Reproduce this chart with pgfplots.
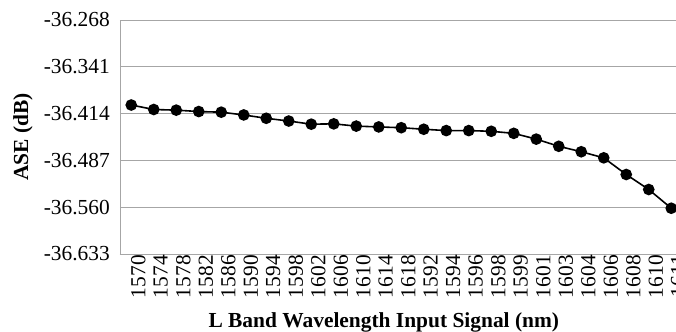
\documentclass[border=0pt]{standalone}
\usepackage{fontspec}
\setmainfont{Liberation Serif}
\usepackage{pgfplots}
\pgfplotsset{compat=1.18}
\definecolor{gridgray}{RGB}{166,166,166}
\begin{document}
\fontsize{21.5}{24}\selectfont
\begin{tikzpicture}
\begin{axis}[
  at={(0,0)}, anchor=south west,
  scale only axis,
  width=562.5bp, height=234bp,
  xmin=-0.5, xmax=24.5,
  ymin=-36.633, ymax=-36.268,
  axis x line*=bottom, axis y line*=left,
  axis line style={gridgray, line width=1pt},
  ymajorgrids, grid style={gridgray, line width=1pt},
  major tick length=0pt,
  xtick={0,...,24},
  xticklabels={1570,1574,1578,1582,1586,1590,1594,1598,1602,1606,1610,1614,1618,1592,1594,1596,1598,1599,1601,1603,1604,1606,1608,1610,1611},
  xticklabel style={rotate=90, anchor=east, inner sep=1bp, yshift=-7bp, font=\fontsize{21.5}{24}\selectfont},
  ytick={-36.633,-36.560,-36.487,-36.414,-36.341,-36.268},
  yticklabels={-36.633,-36.560,-36.487,-36.414,-36.341,-36.268},
  yticklabel style={font=\fontsize{21.5}{24}\selectfont, inner sep=1bp, xshift=-9bp},
  xlabel={\bfseries L Band Wavelength Input Signal (nm)},
  ylabel={\bfseries ASE (dB)},
  xlabel style={font=\fontsize{21.5}{24}\selectfont, at={(axis description cs:0.469,0)}, anchor=base, yshift=-73bp},
  ylabel style={font=\fontsize{21.5}{24}\selectfont, at={(axis description cs:-0.1724,0.5)}, anchor=center},
  clip=false,
]
\addplot[black, line width=1.6pt, mark=*, mark size=5bp, mark options={fill=black}] coordinates {
(0,-36.4006) (1,-36.4076) (2,-36.4086) (3,-36.4108) (4,-36.4118)
(5,-36.4161) (6,-36.4213) (7,-36.4256) (8,-36.4305) (9,-36.4300)
(10,-36.4335) (11,-36.4348) (12,-36.4360) (13,-36.4384) (14,-36.4405)
(15,-36.4405) (16,-36.4416) (17,-36.4448) (18,-36.4538) (19,-36.4650)
(20,-36.4735) (21,-36.4830) (22,-36.5090) (23,-36.5324) (24,-36.5616)
};
\end{axis}
\pgfresetboundingbox
\path (-120bp,-78bp) rectangle (556bp,254bp);
\end{tikzpicture}
\end{document}
